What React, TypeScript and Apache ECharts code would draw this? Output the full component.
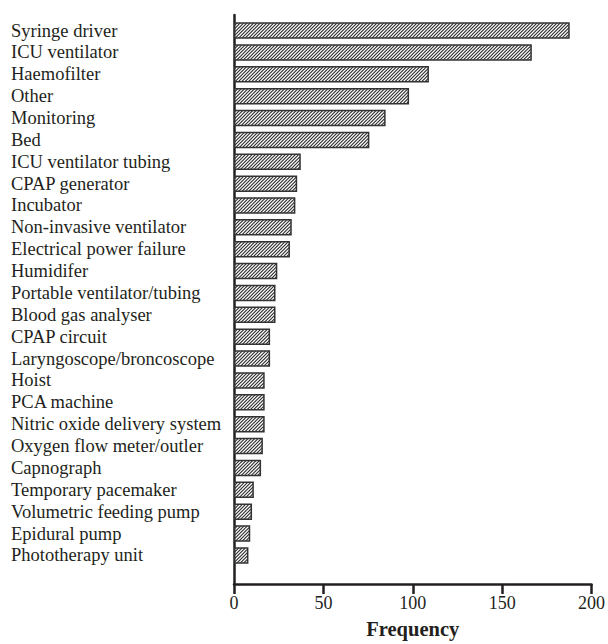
import React, { useEffect, useRef } from "react";
import * as echarts from "echarts";

const categories = [
  "Syringe driver",
  "ICU ventilator",
  "Haemofilter",
  "Other",
  "Monitoring",
  "Bed",
  "ICU ventilator tubing",
  "CPAP generator",
  "Incubator",
  "Non-invasive ventilator",
  "Electrical power failure",
  "Humidifer",
  "Portable ventilator/tubing",
  "Blood gas analyser",
  "CPAP circuit",
  "Laryngoscope/broncoscope",
  "Hoist",
  "PCA machine",
  "Nitric oxide delivery system",
  "Oxygen flow meter/outler",
  "Capnograph",
  "Temporary pacemaker",
  "Volumetric feeding pump",
  "Epidural pump",
  "Phototherapy unit",
];

const frequencies = [186, 165, 108, 97, 84, 75, 37, 35, 34, 32, 31, 24, 23, 23, 20, 20, 17, 17, 17, 16, 15, 11, 10, 9, 8];

const xTicks = [0, 50, 100, 150, 200];

const FONT = "'Liberation Serif', 'Times New Roman', serif";
const INK = "#231f20";

function makeHatch(): HTMLCanvasElement {
  const size = 10;
  const c = document.createElement("canvas");
  c.width = size;
  c.height = size;
  const ctx = c.getContext("2d")!;
  ctx.fillStyle = "#ffffff";
  ctx.fillRect(0, 0, size, size);
  ctx.strokeStyle = "#2a2a2a";
  ctx.lineWidth = 1.1;
  const step = size / 3;
  for (let k = -2; k <= 8; k++) {
    const s = k * step;
    ctx.beginPath();
    ctx.moveTo(s - 15, 15);
    ctx.lineTo(s + 15, -15);
    ctx.stroke();
  }
  return c;
}

export default function App() {
  const ref = useRef<HTMLDivElement>(null);

  useEffect(() => {
    if (!ref.current) return;
    const chart = echarts.init(ref.current, null, { renderer: "svg" });
    const band = 21.87;
    const hatch = makeHatch();
    const option: any = {
      animation: false,
      backgroundColor: "#ffffff",
      graphic: [
        {
          type: "text",
          left: 0,
          top: -19,
          style: {
            text: "Type of equipment",
            font: `bold 18px ${FONT}`,
            fill: INK,
          },
        },
      ],
      grid: [
        { left: 234, right: 13, top: 19.6, height: band * categories.length },
        { left: 234, right: 13, top: 15, bottom: 58 },
      ],
      xAxis: [
        {
          gridIndex: 0,
          type: "value",
          min: xTicks[0],
          max: xTicks[xTicks.length - 1],
          interval: 50,
          show: false,
          splitLine: { show: false },
        },
        {
          gridIndex: 1,
          type: "value",
          min: xTicks[0],
          max: xTicks[xTicks.length - 1],
          interval: 50,
          name: "Frequency",
          nameLocation: "middle",
          nameGap: 34,
          nameTextStyle: { fontFamily: FONT, fontWeight: "bold", fontSize: 20.5, color: INK },
          axisLine: { show: true, lineStyle: { color: INK, width: 2.5 } },
          axisTick: { show: true, length: 10, inside: false, lineStyle: { color: INK, width: 2.5 } },
          axisLabel: { fontFamily: FONT, fontSize: 18, color: INK, margin: 10 },
          splitLine: { show: false },
        },
      ],
      yAxis: [
        {
          gridIndex: 0,
          type: "category",
          inverse: true,
          data: categories,
          axisLine: { show: false },
          axisTick: { show: false },
          axisLabel: {
            interval: 0,
            fontFamily: FONT,
            fontSize: 18.5,
            color: INK,
            align: "left",
            margin: 223,
          },
          splitLine: { show: false },
        },
        {
          gridIndex: 1,
          type: "value",
          min: 0,
          max: 1,
          axisLine: { show: true, onZero: false, lineStyle: { color: INK, width: 2.5 } },
          axisTick: { show: false },
          axisLabel: { show: false },
          splitLine: { show: false },
        },
      ],
      series: [
        {
          type: "bar",
          xAxisIndex: 0,
          yAxisIndex: 0,
          data: frequencies,
          barWidth: 16.5,
          itemStyle: {
            color: { image: hatch, repeat: "repeat" },
            borderColor: "#333333",
            borderWidth: 1.5,
          },
        },
      ],
    };
    chart.setOption(option);
    return () => chart.dispose();
  }, []);

  return (
    <div
      ref={ref}
      style={{ position: "absolute", left: 0, top: 0, width: 608, height: 644 }}
    />
  );
}
